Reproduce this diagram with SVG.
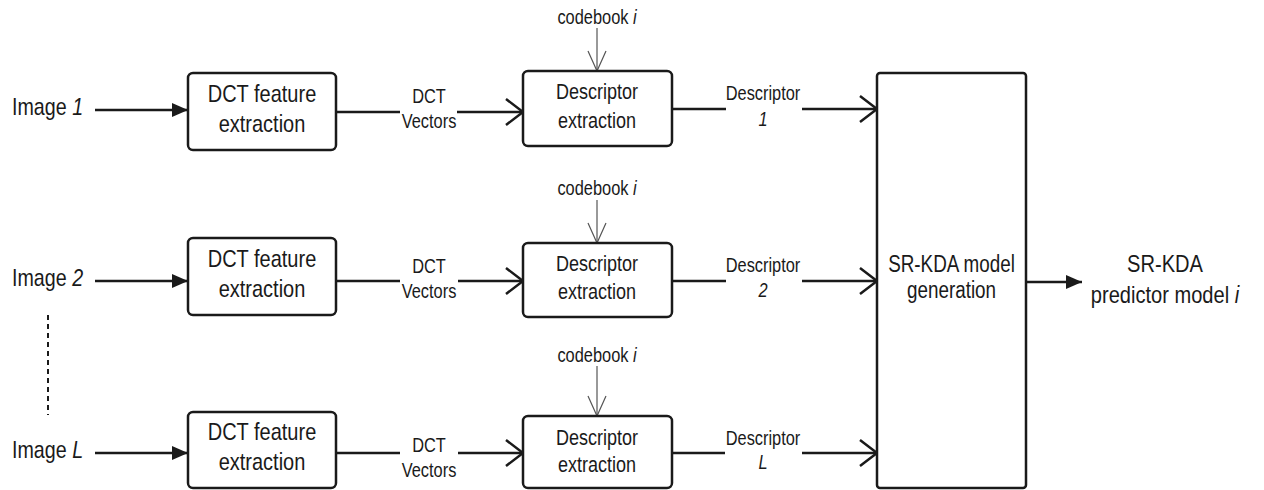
<svg xmlns="http://www.w3.org/2000/svg" width="1264" height="490" viewBox="0 0 1264 490">
  <style>
    text { font-family: "Liberation Sans", Arial, sans-serif; fill: #1a1a1a; text-anchor: middle; }
    .lbl { font-size: 24px; text-anchor: start; }
    .dct { font-size: 24.4px; }
    .desc { font-size: 22px; }
    .big { font-size: 23px; }
    .out { font-size: 24.5px; }
    .sm { font-size: 20px; }
    .it { font-style: italic; }
    .box { fill: #fff; stroke: #1a1a1a; stroke-width: 2.5; }
    .conn { fill: none; stroke: #1a1a1a; stroke-width: 2.5; }
    .thin { fill: none; stroke: #555; stroke-width: 1.2; }
    .dash { fill: none; stroke: #1a1a1a; stroke-width: 2; stroke-dasharray: 5 4; }
  </style>
  <defs>
    <marker id="fill" markerUnits="userSpaceOnUse" viewBox="0 0 16 14" markerWidth="16" markerHeight="14" refX="16" refY="7" orient="auto">
      <path d="M0,0 L16,7 L0,14 z" fill="#1a1a1a"/>
    </marker>
    <marker id="open" markerUnits="userSpaceOnUse" viewBox="-2 -2 22 30" markerWidth="22" markerHeight="30" refX="17" refY="13" orient="auto" overflow="visible">
      <path d="M0,0 L17,13 L0,26" fill="none" stroke="#1a1a1a" stroke-width="2.5"/>
    </marker>
    <marker id="openthin" markerUnits="userSpaceOnUse" viewBox="-2 -2 24 22" markerWidth="24" markerHeight="22" refX="20" refY="9" orient="auto" overflow="visible">
      <path d="M0,0 L20,9 L0,18" fill="none" stroke="#555" stroke-width="1.2"/>
    </marker>
  </defs>

  <g id="connectors">
    <line class="conn" x1="95" y1="110" x2="188" y2="110" marker-end="url(#fill)"/>
    <line class="conn" x1="95" y1="281" x2="188" y2="281" marker-end="url(#fill)"/>
    <line class="conn" x1="95" y1="453" x2="188" y2="453" marker-end="url(#fill)"/>
    <line class="conn" x1="336" y1="112" x2="400" y2="112"/>
    <line class="conn" x1="457" y1="112" x2="523" y2="112" marker-end="url(#open)"/>
    <line class="conn" x1="336" y1="281" x2="400" y2="281"/>
    <line class="conn" x1="458" y1="281" x2="523" y2="281" marker-end="url(#open)"/>
    <line class="conn" x1="336" y1="453" x2="400" y2="453"/>
    <line class="conn" x1="458" y1="453" x2="523" y2="453" marker-end="url(#open)"/>
    <line class="thin" x1="597" y1="28" x2="597" y2="71" marker-end="url(#openthin)"/>
    <line class="thin" x1="597" y1="200" x2="597" y2="243" marker-end="url(#openthin)"/>
    <line class="thin" x1="597" y1="366" x2="597" y2="416" marker-end="url(#openthin)"/>
    <line class="conn" x1="672" y1="109" x2="726" y2="109"/>
    <line class="conn" x1="802" y1="109" x2="877" y2="109" marker-end="url(#open)"/>
    <line class="conn" x1="672" y1="281" x2="726" y2="281"/>
    <line class="conn" x1="802" y1="281" x2="877" y2="281" marker-end="url(#open)"/>
    <line class="conn" x1="672" y1="453" x2="725" y2="453"/>
    <line class="conn" x1="802" y1="453" x2="877" y2="453" marker-end="url(#open)"/>
    <line class="conn" x1="1026" y1="282" x2="1082" y2="282" marker-end="url(#fill)"/>
    <line class="dash" x1="48" y1="315" x2="48" y2="415"/>
  </g>

  <g id="image1"><text class="lbl" transform="translate(12 0) scale(0.82 1)" x="0" y="115">Image <tspan class="it">1</tspan></text></g>
  <g id="image2"><text class="lbl" transform="translate(12 0) scale(0.82 1)" x="0" y="286">Image <tspan class="it">2</tspan></text></g>
  <g id="imageL"><text class="lbl" transform="translate(12 0) scale(0.82 1)" x="0" y="458">Image <tspan class="it">L</tspan></text></g>

  <g id="dct1">
    <rect class="box" x="188" y="73" width="148" height="77" rx="5"/>
    <text class="dct" transform="translate(262 0) scale(0.82 1)" x="0" y="102">DCT feature</text>
    <text class="dct" transform="translate(262 0) scale(0.82 1)" x="0" y="132">extraction</text>
  </g>
  <g id="dct2">
    <rect class="box" x="188" y="238" width="148" height="77" rx="5"/>
    <text class="dct" transform="translate(262 0) scale(0.82 1)" x="0" y="267">DCT feature</text>
    <text class="dct" transform="translate(262 0) scale(0.82 1)" x="0" y="297">extraction</text>
  </g>
  <g id="dct3">
    <rect class="box" x="188" y="412" width="148" height="76" rx="5"/>
    <text class="dct" transform="translate(262 0) scale(0.82 1)" x="0" y="440">DCT feature</text>
    <text class="dct" transform="translate(262 0) scale(0.82 1)" x="0" y="470">extraction</text>
  </g>

  <g id="vec1">
    <text class="sm" transform="translate(429 0) scale(0.82 1)" x="0" y="103">DCT</text>
    <text class="sm" transform="translate(429 0) scale(0.82 1)" x="0" y="128">Vectors</text>
  </g>
  <g id="vec2">
    <text class="sm" transform="translate(429 0) scale(0.82 1)" x="0" y="273">DCT</text>
    <text class="sm" transform="translate(429 0) scale(0.82 1)" x="0" y="298">Vectors</text>
  </g>
  <g id="vec3">
    <text class="sm" transform="translate(429 0) scale(0.82 1)" x="0" y="452">DCT</text>
    <text class="sm" transform="translate(429 0) scale(0.82 1)" x="0" y="477">Vectors</text>
  </g>

  <g id="cb1"><text class="sm" transform="translate(597 0) scale(0.82 1)" x="0" y="24">codebook <tspan class="it">i</tspan></text></g>
  <g id="cb2"><text class="sm" transform="translate(597 0) scale(0.82 1)" x="0" y="195">codebook <tspan class="it">i</tspan></text></g>
  <g id="cb3"><text class="sm" transform="translate(597 0) scale(0.82 1)" x="0" y="362">codebook <tspan class="it">i</tspan></text></g>

  <g id="desc1">
    <rect class="box" x="523" y="71" width="149" height="75" rx="5"/>
    <text class="desc" transform="translate(597 0) scale(0.82 1)" x="0" y="99">Descriptor</text>
    <text class="desc" transform="translate(597 0) scale(0.82 1)" x="0" y="128">extraction</text>
  </g>
  <g id="desc2">
    <rect class="box" x="523" y="243" width="149" height="74" rx="5"/>
    <text class="desc" transform="translate(597 0) scale(0.82 1)" x="0" y="271">Descriptor</text>
    <text class="desc" transform="translate(597 0) scale(0.82 1)" x="0" y="299">extraction</text>
  </g>
  <g id="desc3">
    <rect class="box" x="523" y="416" width="149" height="72" rx="5"/>
    <text class="desc" transform="translate(597 0) scale(0.82 1)" x="0" y="445">Descriptor</text>
    <text class="desc" transform="translate(597 0) scale(0.82 1)" x="0" y="472">extraction</text>
  </g>

  <g id="dlab1">
    <text class="sm" transform="translate(763 0) scale(0.82 1)" x="0" y="100">Descriptor</text>
    <text class="sm it" transform="translate(763 0) scale(0.82 1)" x="0" y="126">1</text>
  </g>
  <g id="dlab2">
    <text class="sm" transform="translate(763 0) scale(0.82 1)" x="0" y="272">Descriptor</text>
    <text class="sm it" transform="translate(763 0) scale(0.82 1)" x="0" y="297">2</text>
  </g>
  <g id="dlab3">
    <text class="sm" transform="translate(763 0) scale(0.82 1)" x="0" y="445">Descriptor</text>
    <text class="sm it" transform="translate(763 0) scale(0.82 1)" x="0" y="469">L</text>
  </g>

  <g id="srkda">
    <rect class="box" x="877" y="73" width="149" height="415" rx="3"/>
    <text class="big" transform="translate(951.5 0) scale(0.82 1)" x="0" y="272">SR-KDA model</text>
    <text class="big" transform="translate(951.5 0) scale(0.82 1)" x="0" y="298">generation</text>
  </g>

  <g id="output">
    <text class="out" transform="translate(1165 0) scale(0.82 1)" x="0" y="272">SR-KDA</text>
    <text class="out" transform="translate(1165 0) scale(0.82 1)" x="0" y="303">predictor model <tspan class="it">i</tspan></text>
  </g>
</svg>
